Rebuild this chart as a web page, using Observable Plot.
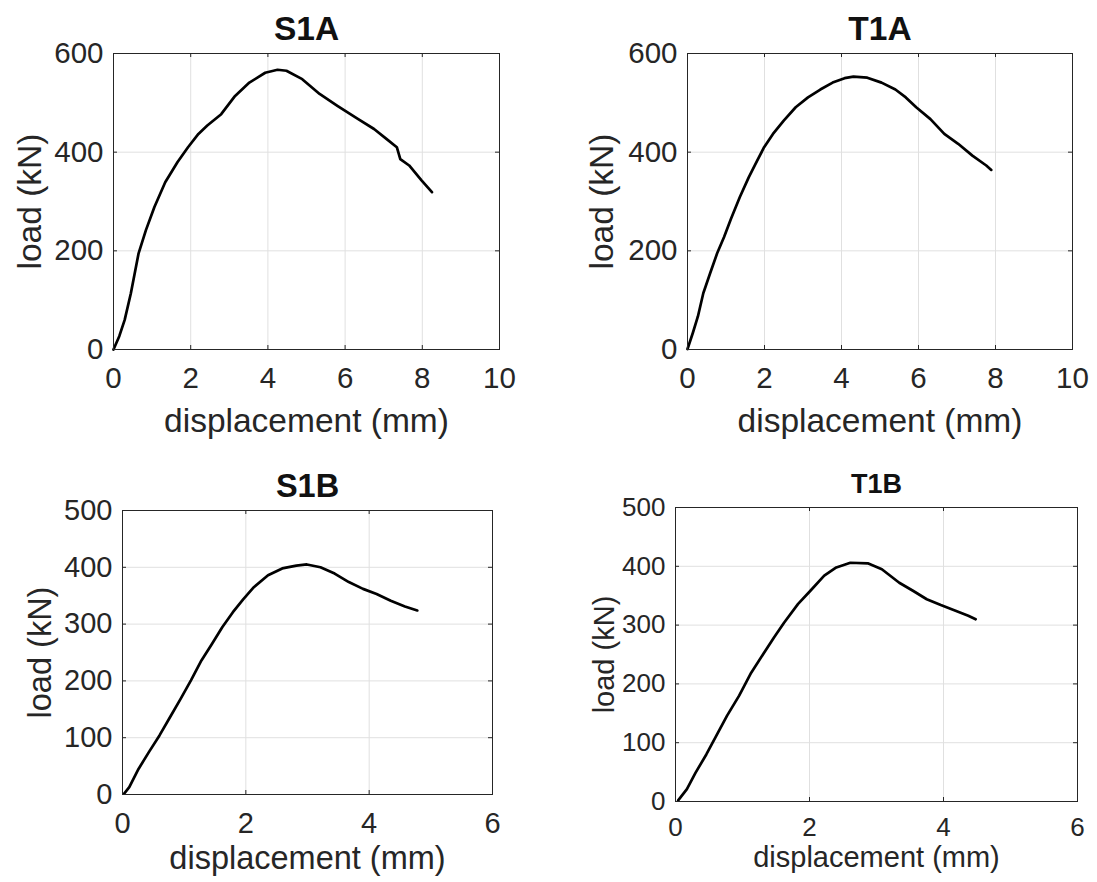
<!DOCTYPE html>
<html><head><meta charset="utf-8">
<script src="https://cdn.jsdelivr.net/npm/d3@7"></script>
<script src="https://cdn.jsdelivr.net/npm/@observablehq/plot@0.6"></script>
<style>
body{margin:0;background:#fff;}
#root{position:relative;width:1097px;height:882px;overflow:hidden;background:#fff;}
#root svg{position:absolute;}
</style></head><body><div id="root"></div>
<script>
// ---- data ----
const s1aDisp = [0, 0.15, 0.29, 0.45, 0.65, 0.84, 1.06, 1.34, 1.66, 1.93, 2.2, 2.43, 2.79, 3.15, 3.52, 3.93, 4.25, 4.48, 4.89, 5.34, 5.8, 6.34, 6.75, 7.07, 7.34, 7.43, 7.66, 7.98, 8.25];
const s1aLoad = [0, 27, 60, 114, 195, 242, 289, 339, 380, 410, 437, 454, 477, 514, 541, 561, 567, 565, 548, 518, 494, 467, 447, 427, 410, 386, 373, 343, 319];

const t1aDisp = [0, 0.14, 0.27, 0.41, 0.59, 0.77, 0.95, 1.13, 1.36, 1.59, 1.81, 1.99, 2.22, 2.5, 2.81, 3.13, 3.45, 3.77, 4.08, 4.31, 4.67, 5.04, 5.4, 5.67, 5.94, 6.31, 6.67, 7.03, 7.4, 7.76, 7.89];
const t1aLoad = [1, 34, 67, 114, 155, 195, 228, 265, 309, 349, 383, 410, 437, 464, 491, 511, 527, 541, 550, 553, 551, 541, 527, 511, 491, 467, 437, 417, 393, 373, 364];

const s1bDisp = [0.03, 0.11, 0.26, 0.43, 0.6, 0.77, 0.94, 1.11, 1.28, 1.45, 1.62, 1.79, 1.96, 2.13, 2.36, 2.59, 2.82, 2.99, 3.21, 3.44, 3.67, 3.9, 4.12, 4.35, 4.58, 4.78];
const s1bLoad = [2, 13, 45, 75, 104, 136, 168, 201, 236, 265, 295, 321, 344, 365, 386, 398, 403, 405, 400, 389, 374, 362, 353, 341, 331, 324];

const t1bDisp = [0.04, 0.17, 0.3, 0.46, 0.61, 0.77, 0.95, 1.13, 1.31, 1.47, 1.62, 1.83, 2.01, 2.22, 2.4, 2.61, 2.87, 3.08, 3.34, 3.55, 3.75, 3.96, 4.17, 4.37, 4.48];
const t1bLoad = [2, 21, 49, 80, 112, 146, 180, 219, 251, 279, 304, 336, 358, 384, 398, 406, 405, 395, 372, 358, 344, 334, 325, 316, 310];

const titles = ["S1A", "T1A", "S1B", "T1B"];
const xLabel = "displacement (mm)";
const yLabel = "load (kN)";
const xTicksA = [0, 2, 4, 6, 8, 10];
const yTicksA = [0, 200, 400, 600];
const xTicksB = [0, 2, 4, 6];
const yTicksB = [0, 100, 200, 300, 400, 500];

// ---- styling / layout ----
const FONT = '"Liberation Sans", Arial, Helvetica, sans-serif';
const TXT = "#262626";
const GRID = "#e0e0e0";
const AX = "#262626";
const TICK = 4;

const panels = [
  {title: titles[0], disp: s1aDisp, load: s1aLoad, xTicks: xTicksA, yTicks: yTicksA,
   left: 0, top: 0, width: 549, height: 445, ml: 113, mr: 50, mt: 53, mb: 96,
   tickFs: 29.5, labFs: 33.5, titleFs: 33.5, xPad: 18, yPad: 10, titleDy: -24, xlDy: 72, ylDx: -83},
  {title: titles[1], disp: t1aDisp, load: t1aLoad, xTicks: xTicksA, yTicks: yTicksA,
   left: 549, top: 0, width: 548, height: 445, ml: 138, mr: 25, mt: 53, mb: 96,
   tickFs: 29.5, labFs: 33.5, titleFs: 33.5, xPad: 18, yPad: 10, titleDy: -24, xlDy: 72, ylDx: -85},
  {title: titles[2], disp: s1bDisp, load: s1bLoad, xTicks: xTicksB, yTicks: yTicksB,
   left: 0, top: 445, width: 549, height: 437, ml: 122, mr: 57, mt: 65, mb: 88,
   tickFs: 29, labFs: 32.5, titleFs: 32.5, xPad: 18, yPad: 10, titleDy: -24, xlDy: 64, ylDx: -82},
  {title: titles[3], disp: t1bDisp, load: t1bLoad, xTicks: xTicksB, yTicks: yTicksB,
   left: 549, top: 445, width: 548, height: 437, ml: 126, mr: 20, mt: 62, mb: 81,
   tickFs: 26, labFs: 29, titleFs: 27, xPad: 16, yPad: 10, titleDy: -23, xlDy: 56, ylDx: -71}
];

const root = document.getElementById("root");

for (const p of panels) {
  const data = p.disp.map((d, i) => ({d, l: p.load[i]}));
  const fw = p.width - p.ml - p.mr;
  const fh = p.height - p.mt - p.mb;
  const chart = Plot.plot({
    width: p.width, height: p.height,
    marginLeft: p.ml, marginRight: p.mr, marginTop: p.mt, marginBottom: p.mb,
    style: {fontFamily: FONT, background: "transparent", overflow: "visible"},
    x: {domain: [p.xTicks[0], p.xTicks[p.xTicks.length - 1]], label: null},
    y: {domain: [p.yTicks[0], p.yTicks[p.yTicks.length - 1]], label: null},
    marks: [
      Plot.gridX(p.xTicks, {stroke: GRID, strokeOpacity: 1}),
      Plot.gridY(p.yTicks, {stroke: GRID, strokeOpacity: 1}),
      Plot.line(data, {x: "d", y: "l", stroke: "#000", strokeWidth: 2.7, strokeLinejoin: "round"}),
      Plot.frame({stroke: AX, strokeWidth: 1}),
      Plot.ruleX(p.xTicks, {stroke: AX, insetTop: fh - TICK}),
      Plot.ruleX(p.xTicks, {stroke: AX, insetBottom: fh - TICK}),
      Plot.ruleY(p.yTicks, {stroke: AX, insetRight: fw - TICK}),
      Plot.ruleY(p.yTicks, {stroke: AX, insetLeft: fw - TICK}),
      Plot.axisX(p.xTicks, {tickSize: 0, tickPadding: p.xPad, fontSize: p.tickFs, color: TXT, label: null}),
      Plot.axisY(p.yTicks, {tickSize: 0, tickPadding: p.yPad, fontSize: p.tickFs, color: TXT, label: null}),
      Plot.text([p.title], {text: d => d, frameAnchor: "top", dy: p.titleDy, lineAnchor: "middle", textAnchor: "middle",
        fontSize: p.titleFs, fontWeight: "bold", fill: "#111"}),
      Plot.text([xLabel], {text: d => d, frameAnchor: "bottom", dy: p.xlDy, lineAnchor: "middle", textAnchor: "middle",
        fontSize: p.labFs, fill: TXT}),
      Plot.text([yLabel], {text: d => d, frameAnchor: "left", dx: p.ylDx, rotate: -90, lineAnchor: "middle", textAnchor: "middle",
        fontSize: p.labFs, fill: TXT})
    ]
  });
  chart.style.left = p.left + "px";
  chart.style.top = p.top + "px";
  root.appendChild(chart);
}
</script>
</body></html>
